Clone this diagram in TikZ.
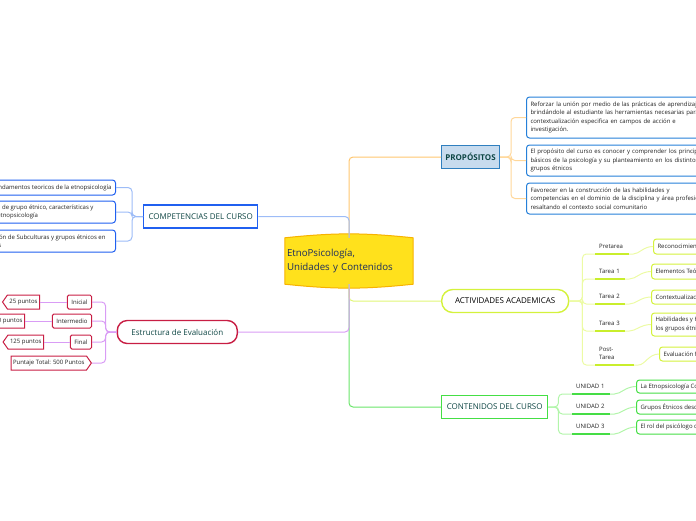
\documentclass[tikz,border=0pt]{standalone}
\usepackage{fontspec}
\setmainfont{Open Sans}
\usetikzlibrary{shapes.symbols,backgrounds}

\definecolor{titletxt}{HTML}{1C2E5E}
\definecolor{tealtxt}{HTML}{0E4644}
\definecolor{smalltxt}{HTML}{222222}
\definecolor{yellowc}{HTML}{FFE11C}
\definecolor{orangec}{HTML}{F7B200}
\definecolor{proptrunk}{HTML}{FFC66E}
\definecolor{propfill}{HTML}{C7DBEE}
\definecolor{propborder}{HTML}{2F7FBF}
\definecolor{propsubline}{HTML}{FFD79A}
\definecolor{propsubborder}{HTML}{2680D9}
\definecolor{compborder}{HTML}{2060F0}
\definecolor{compline}{HTML}{9DBCF7}
\definecolor{evalborder}{HTML}{C81E44}
\definecolor{evalline}{HTML}{D99CF5}
\definecolor{actborder}{HTML}{D4F23C}
\definecolor{actline}{HTML}{ECFBA4}
\definecolor{actunder}{HTML}{C9EE2C}
\definecolor{contborder}{HTML}{45DF45}
\definecolor{contline}{HTML}{B2F5AA}
\definecolor{contunder}{HTML}{45DD45}

\begin{document}
\begin{tikzpicture}[x=1pt, y=-1pt,
  every node/.style={font=\fontsize{6}{8.5}\selectfont, text=smalltxt, inner sep=2pt},
  topic/.style={draw, line width=1.4pt, fill=white, font=\fontsize{8}{9}\selectfont, text=tealtxt, minimum height=23},
  subbox/.style={draw, line width=1pt, rounded corners=3pt, fill=white, align=left, inner xsep=4pt, anchor=west},
  tag/.style={align=left, text width=#1, inner xsep=4pt, inner ysep=5pt, anchor=south west},
  bus/.style={line width=1pt, rounded corners=4pt},
  punto/.style={draw=evalborder, line width=1pt, fill=white, signal, signal pointer angle=110, minimum height=14, inner xsep=2pt, anchor=east},
  evalbox/.style={draw=evalborder, line width=1pt, rounded corners=1.5pt, fill=white, minimum height=14, inner xsep=4pt, anchor=east}]
\clip (0,0) rectangle (696,520);

% central topic
\node[align=left, text width=124, minimum height=46, font=\fontsize{9.7}{14}\selectfont, text=titletxt] (center) at (349,261) {EtnoPsicología,\\Unidades y Contenidos};
\begin{pgfonlayer}{background}
\draw[fill=yellowc, draw=orangec, line width=1pt] (center.north west) to[bend left=6] (center.north east) -- (center.south east) to[bend left=6] (center.south west) -- cycle;
\end{pgfonlayer}

% main topics
\node[topic, draw=propborder, fill=propfill, line width=1pt, font=\fontsize{8}{9}\bfseries, minimum width=58, anchor=west] (prop) at (441,157) {PROPÓSITOS};
\node[topic, draw=compborder, minimum width=114, anchor=west] (comp) at (143,216.5) {COMPETENCIAS DEL CURSO};
\node[topic, draw=evalborder, rounded corners=10pt, minimum width=120, anchor=east] (eval) at (238,332) {Estructura de Evaluación};
\node[topic, draw=actborder, rounded corners=11pt, text=black, minimum width=127, anchor=west] (act) at (441,301) {ACTIVIDADES ACADEMICAS};
\node[topic, draw=contborder, minimum width=106, anchor=west] (cont) at (441,407) {CONTENIDOS DEL CURSO};

% trunk
\draw[bus, contborder!80] (center.south) |- (cont.west);
\draw[bus, actborder!70] (center.south) |- (act.west);
\draw[bus, evalline] (center.south) |- (eval.east);
\draw[bus, proptrunk] (center.north) |- (prop.west);
\draw[bus, compline] (center.north) |- (comp.east);

% propositos
\node[subbox, draw=propsubborder, text width=200, minimum height=41] (p1) at (526,117.5) {Reforzar la unión por medio de las prácticas de aprendizaje,\\brindándole al estudiante las herramientas necesarias para la\\contextualización especifica en campos de acción e\\investigación.};
\node[subbox, draw=propsubborder, text width=200, minimum height=31] (p2) at (526,160.5) {El propósito del curso es conocer y comprender los principios\\básicos de la psicología y su planteamiento en los distintos\\grupos étnicos};
\node[subbox, draw=propsubborder, text width=200, minimum height=31] (p3) at (526,198.5) {Favorecer en la construcción de las habilidades y\\competencias en el dominio de la disciplina y área profesional\\resaltando el contexto social comunitario};
\foreach \p in {p1,p2,p3}
  \draw[bus, propsubline] (prop.east) -- ++(11,0) |- (\p.west);

% competencias
\node[subbox, draw=compborder, anchor=east, minimum height=15] (c1) at (116,187.5) {Fundamentos teoricos de la etnopsicología};
\node[subbox, draw=compborder, anchor=east, minimum height=22] (c2) at (116,212) {Definición de grupo étnico, características y\hspace*{18pt}\\desde la etnopsicología};
\node[subbox, draw=compborder, anchor=east, minimum height=22] (c3) at (116,241) {Caracterización de Subculturas y grupos étnicos en\hspace*{6pt}\\los territorios};
\foreach \c in {c1,c2,c3}
  \draw[bus, compline] (comp.west) -- ++(-11,0) |- (\c.east);

% estructura de evaluacion
\node[evalbox] (ini) at (92,302) {Inicial};
\node[evalbox] (mid) at (92,321) {Intermedio};
\node[evalbox] (fin) at (92,342) {Final};
\node[punto, signal to=east] (total) at (92,363) {Puntaje Total: 500 Puntos};
\node[punto, signal to=west] (pini) at (40,302) {25 puntos};
\node[punto, signal to=west] (pmid) at (25,321) {350 puntos};
\node[punto, signal to=west] (pfin) at (44,342) {125 puntos};
\foreach \e in {ini,mid,fin,total}
  \draw[bus, evalline] (eval.west) -- ++(-11,0) |- (\e.east);
\draw[bus, evalline] (ini.west) -- (pini.east);
\draw[bus, evalline] (mid.west) -- (pmid.east);
\draw[bus, evalline] (fin.west) -- (pfin.east);

% actividades academicas
\node[tag=26] (t0) at (595,254) {Pretarea};
\node[tag=22] (t1) at (595,279) {Tarea 1};
\node[tag=22] (t2) at (595,304) {Tarea 2};
\node[tag=22] (t3) at (595,331) {Tarea 3};
\node[tag=31] (t4) at (595,365) {Post-\\Tarea};
\node[subbox, draw=actborder, minimum height=15] (r0) at (653,246.5) {Reconocimiento};
\node[subbox, draw=actborder, minimum height=15] (r1) at (651,271.5) {Elementos Teóricos};
\node[subbox, draw=actborder, minimum height=14] (r2) at (651,297) {Contextualización};
\node[subbox, draw=actborder, minimum height=23] (r3) at (651,324.5) {Habilidades y Herramientas de\\los grupos étnicos};
\node[subbox, draw=actborder, minimum height=14] (r4) at (659,354) {Evaluación final};
\foreach \a/\b in {t0/r0,t1/r1,t2/r2,t3/r3,t4/r4} {
  \draw[bus, actline] (act.east) -- ++(13,0) |- (\a.south west) -- (\a.south east) to[out=0,in=180] (\b.west);
  \draw[actunder, line width=1.4pt] (\a.south west) -- (\a.south east);
}

% contenidos del curso
\node[tag=30] (u1) at (572,394) {UNIDAD 1};
\node[tag=30] (u2) at (572,414) {UNIDAD 2};
\node[tag=30] (u3) at (572,434) {UNIDAD 3};
\node[subbox, draw=contborder, minimum height=13] (k1) at (636,386.5) {La Etnopsicología Como Ciencia};
\node[subbox, draw=contborder, minimum height=14] (k2) at (636,407) {Grupos Étnicos desde la psicología};
\node[subbox, draw=contborder, minimum height=14] (k3) at (636,427) {El rol del psicólogo desde la etnopsicología};
\foreach \u/\k in {u1/k1,u2/k2,u3/k3} {
  \draw[bus, contline] (cont.east) -- ++(10,0) |- (\u.south west) -- (\u.south east) to[out=0,in=180] (\k.west);
  \draw[contunder, line width=1.4pt] (\u.south west) -- (\u.south east);
}
\end{tikzpicture}
\end{document}
